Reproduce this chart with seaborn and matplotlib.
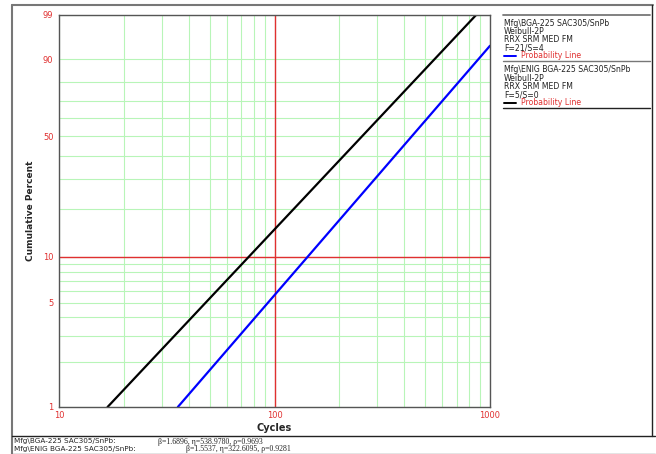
import numpy as np
import pandas as pd
import matplotlib
matplotlib.use("Agg")
import matplotlib.pyplot as plt
from matplotlib.lines import Line2D
import seaborn as sns

# ---- data ----
series_names = ["Mfg\\BGA-225 SAC305/SnPb", "Mfg\\ENIG BGA-225 SAC305/SnPb"]
series_colors = ["#0000ff", "#000000"]
bga_cycles = [35.6, 1000.0]
bga_percent = [1.0, 94.2]
enig_cycles = [16.8, 862.0]
enig_percent = [1.0, 99.0]
legend_info = [["Weibull-2P", "RRX SRM MED FM", "F=21/S=4"],
               ["Weibull-2P", "RRX SRM MED FM", "F=5/S=0"]]
param_text = ["\u03b2=1.6896, \u03b7=538.9780, \u03c1=0.9693",
              "\u03b2=1.5537, \u03b7=322.6095, \u03c1=0.9281"]
y_major = [1, 5, 10, 50, 90, 99]
y_minor = [2, 3, 4, 6, 7, 8, 9, 20, 30, 40, 60, 70, 80]
x_major = [10, 100, 1000]
x_minor = [20, 30, 40, 50, 60, 70, 80, 90, 200, 300, 400, 500, 600, 700, 800, 900]

df = pd.DataFrame({
    "Cycles": bga_cycles + enig_cycles,
    "Percent": bga_percent + enig_percent,
    "Series": [series_names[0]] * len(bga_cycles) + [series_names[1]] * len(enig_cycles),
})

sns.set_theme(style="white")
plt.rcParams["font.family"] = ["DejaVu Sans"]

W, H = 656, 454
fig = plt.figure(figsize=(W / 100, H / 100), dpi=100)

def fx(px):
    return px / W

def fy(py):
    return 1 - py / H

ax = fig.add_axes([fx(59), fy(407), fx(490) - fx(59), fy(15) - fy(407)])

def fwd(p):
    p = np.asarray(p, dtype=float)
    with np.errstate(all="ignore"):
        q = np.clip(p / 100.0, 1e-9, 1 - 1e-9)
        return np.log(-np.log(1 - q))

def inv(y):
    y = np.asarray(y, dtype=float)
    with np.errstate(all="ignore"):
        return 100.0 * (1 - np.exp(-np.exp(y)))

ax.set_xscale("log")
ax.set_yscale("function", functions=(fwd, inv))

sns.lineplot(data=df, x="Cycles", y="Percent", hue="Series",
             palette=dict(zip(series_names, series_colors)),
             linewidth=1.6, ax=ax, legend=False, sort=False, estimator=None)

ax.set_xlim(10, 1000)
ax.set_ylim(1, 99)

red = "#e03030"
green = "#b8f5b8"

ax.set_xticks(x_major)
ax.set_xticklabels([str(v) for v in x_major])
ax.set_xticks(x_minor, minor=True)
ax.set_yticks(y_major)
ax.set_yticklabels([str(v) for v in y_major])
ax.set_yticks(y_minor, minor=True)
ax.yaxis.set_minor_formatter(matplotlib.ticker.NullFormatter())
ax.xaxis.set_minor_formatter(matplotlib.ticker.NullFormatter())

ax.grid(True, which="both", color=green, linewidth=0.8)
ax.set_axisbelow(True)
ax.axhline(10, color=red, linewidth=1.0, zorder=1.5)
ax.axvline(100, color=red, linewidth=1.0, zorder=1.5)

ax.tick_params(axis="both", which="major", labelsize=6, labelcolor=red,
               length=3, width=0.8, color="#333333", direction="out", pad=1)
ax.tick_params(axis="both", which="minor", length=0)
ax.tick_params(axis="x", which="major", length=0, pad=3)

for s in ax.spines.values():
    s.set_color("#555555")
    s.set_linewidth(1.0)

ax.set_xlabel("Cycles", fontsize=7, fontweight="bold", labelpad=2)
ax.set_ylabel("Cumulative Percent", fontsize=6.5, fontweight="bold", labelpad=6)

# ---- outer frame ----
gray = "#777777"
fig.add_artist(Line2D([fx(12), fx(12)], [fy(5), fy(454)], color=gray, lw=1.5))
fig.add_artist(Line2D([fx(12), fx(653)], [fy(5), fy(5)], color=gray, lw=1.5))
fig.add_artist(Line2D([fx(652), fx(652)], [fy(5), fy(436)], color="#222222", lw=1.0))
fig.add_artist(Line2D([fx(12), fx(655)], [fy(436), fy(436)], color="#222222", lw=1.0))
fig.add_artist(Line2D([fx(12), fx(655)], [fy(453.5), fy(453.5)], color=gray, lw=1.0))

# ---- legend panel ----
fig.add_artist(Line2D([fx(503), fx(650)], [fy(15), fy(15)], color=gray, lw=1.3))
fig.add_artist(Line2D([fx(503), fx(650)], [fy(61), fy(61)], color=gray, lw=1.0))
fig.add_artist(Line2D([fx(503), fx(650)], [fy(108), fy(108)], color="#222222", lw=1.0))
tx = fx(504)
for i, name in enumerate(series_names):
    y0 = 23 + i * 47
    lines = [name] + legend_info[i]
    for j, t in enumerate(lines):
        fig.text(tx, fy(y0 + j * 8.2), t, fontsize=5.6, color="#222222",
                 va="center", ha="left")
    yl = y0 + 4 * 8.2
    fig.add_artist(Line2D([fx(504), fx(516)], [fy(yl), fy(yl)],
                          color=series_colors[i], lw=1.4))
    fig.text(fx(521), fy(yl), "Probability Line", fontsize=5.6, color=red,
             va="center", ha="left")

# ---- bottom parameter rows ----
fig.text(fx(14), fy(441.5), series_names[0] + ":", fontsize=5.2, color="#222222",
         va="center", ha="left")
fig.text(fx(158), fy(441.5), param_text[0], fontsize=5.6, color="#222222",
         va="center", ha="left", family=["Liberation Serif", "DejaVu Serif"])
fig.text(fx(14), fy(449), series_names[1] + ":", fontsize=5.2, color="#222222",
         va="center", ha="left")
fig.text(fx(186), fy(449), param_text[1], fontsize=5.6, color="#222222",
         va="center", ha="left", family=["Liberation Serif", "DejaVu Serif"])

fig.savefig("out.png", dpi=100)
